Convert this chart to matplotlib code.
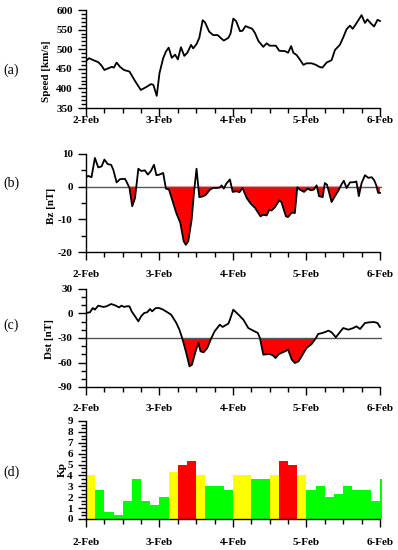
import matplotlib
matplotlib.use("Agg")
import matplotlib.pyplot as plt
from matplotlib.ticker import MultipleLocator
import numpy as np

# hours since 2-Feb 00:00
speed_t = [0.0, 1.0, 2.4, 4.0, 5.1, 6.0, 7.2, 8.4, 9.1, 10.0,
           11.1, 12.4, 14.2, 16.0, 17.9, 19.8, 21.2, 22.0, 23.1, 24.0,
           25.2, 26.1, 27.0, 28.0, 29.1, 30.0, 31.0, 32.1, 33.1, 34.3,
           35.0, 36.1, 37.0, 38.1, 38.9, 40.2, 41.5, 43.0, 44.1, 45.0,
           46.5, 47.2, 48.1, 49.0, 50.3, 51.1, 52.1, 53.3, 54.3, 55.2,
           56.3, 57.9, 59.0, 60.0, 62.0, 63.1, 65.0, 66.0, 67.0, 67.7,
           68.8, 69.8, 71.0, 72.0, 73.7, 75.1, 76.2, 77.2, 78.6, 80.2,
           81.3, 82.9, 84.0, 85.1, 86.2, 87.1, 88.3, 90.0, 91.1, 91.9,
           93.0, 94.1, 95.2, 96.0]
speed = [470, 477, 472, 467, 458, 447, 451, 455, 453, 466,
         455, 447, 443, 419, 396, 404, 411, 409, 381, 439,
         477, 494, 504, 478, 486, 474, 505, 483, 491, 511,
         502, 513, 529, 574, 568, 545, 536, 536, 528, 522,
         529, 540, 578, 572, 546, 547, 559, 555, 552, 541,
         521, 506, 515, 509, 509, 496, 495, 491, 508, 491,
         485, 474, 460, 464, 464, 460, 455, 453, 466, 472,
         498, 511, 530, 551, 560, 552, 566, 587, 567, 576,
         566, 558, 575, 572]

bz_t = [0.0, 0.7, 1.8, 2.9, 4.0, 5.1, 6.0, 7.1, 8.2, 8.9,
        10.0, 11.1, 12.7, 13.2, 14.2, 15.1, 16.0, 17.1, 18.0, 19.2,
        20.2, 21.2, 22.2, 23.0, 24.0, 25.2, 26.1, 27.1, 28.3, 29.5,
        30.8, 31.9, 32.6, 33.4, 34.5, 35.3, 36.1, 37.0, 38.1, 39.1,
        40.5, 41.5, 43.0, 43.8, 44.3, 45.0, 45.8, 47.0, 47.9, 49.2,
        50.1, 51.1, 52.5, 53.8, 55.2, 57.0, 57.8, 59.0, 59.9, 60.6,
        61.7, 63.1, 63.8, 65.3, 66.0, 67.2, 68.2, 69.0, 69.8, 71.2,
        72.4, 73.4, 74.4, 75.3, 76.1, 77.3, 78.0, 78.7, 80.2, 81.3,
        82.3, 83.5, 84.2, 85.1, 86.2, 87.8, 88.3, 89.1, 90.0, 91.1,
        92.2, 93.3, 94.1, 94.8, 95.4, 96.0]
bz = [2.9, 3.3, 2.9, 8.8, 5.9, 6.2, 8.3, 6.9, 6.7, 5.2,
      1.3, 2.3, 2.4, 1.6, -0.4, -6.0, -3.5, 5.5, 4.8, 5.0,
      3.7, 4.8, 6.7, 3.5, 3.7, 4.2, -0.6, -0.9, -4.5, -8.1,
      -11.1, -16.7, -17.8, -16.7, -10.1, -1.4, 5.5, -3.2, -3.0, -2.5,
      -0.9, -0.4, -0.4, -0.2, 0.4, -0.6, 0.9, 2.2, -1.6, -1.4,
      -1.7, -0.4, -3.5, -5.2, -6.5, -9.1, -8.6, -8.8, -7.0, -7.3,
      -6.3, -4.2, -4.7, -9.1, -9.3, -7.9, -8.1, -0.2, -0.9, -1.6,
      -0.6, -1.1, -0.9, 0.4, -2.9, -3.2, 1.1, 0.6, -4.7, -2.9,
      -1.4, 0.8, 1.8, -0.4, 1.3, 1.4, 1.6, -2.9, 1.1, 3.5,
      2.7, 2.9, 2.0, 0.4, -1.9, -1.9]

dst_t = [0.0, 1.3, 2.2, 2.9, 4.0, 5.7, 6.7, 8.2, 9.5, 10.8,
         11.6, 12.5, 13.2, 14.2, 14.9, 16.0, 17.1, 18.0, 19.0, 20.0,
         20.9, 21.6, 22.8, 23.9, 25.2, 26.4, 27.8, 29.5, 30.5, 31.4,
         32.6, 33.8, 34.6, 35.8, 36.7, 37.4, 38.4, 39.6, 40.8, 42.0,
         43.7, 44.6, 46.5, 47.0, 48.1, 49.8, 51.4, 53.0, 54.6, 56.1,
         56.8, 57.9, 59.9, 61.0, 61.9, 63.0, 65.0, 66.0, 67.2, 68.2,
         69.4, 70.4, 72.0, 73.7, 75.1, 75.8, 77.3, 79.2, 80.2, 81.6,
         82.7, 84.0, 85.7, 87.3, 88.3, 89.5, 91.1, 92.6, 94.0, 95.2,
         96.0]
dst = [0.6, 1.5, 6.7, 4.7, 9.6, 8.0, 8.8, 11.6, 10.0, 7.5,
       9.6, 8.0, 8.8, 8.8, 2.7, -3.4, -9.6, -3.4, 0.6, 1.5,
       5.5, 2.7, 6.7, 6.7, 4.7, 1.9, -1.4, -11.6, -19.8, -30,
       -46.3, -64.7, -62.7, -46.3, -36.1, -46.3, -47.5, -42.2, -31.2, -21.8,
       -13.7, -16.5, -12.4, -7.6, 4.7, -1.4, -7.6, -17.8, -21, -23.8,
       -30, -50.4, -49.6, -51.2, -54.5, -49.6, -46.3, -44.3, -56.5, -60.6,
       -58.6, -52.5, -42.2, -37.3, -30, -25.1, -23.8, -21, -23, -29.2,
       -23.8, -17.8, -19.8, -17.8, -15.7, -19, -11.6, -10.8, -10.4, -11.6,
       -16.5]

# 3-hour Kp, starting 2-Feb 00:00
kp = [4.0, 2.67, 0.67, 0.33, 1.67, 3.67, 1.67, 1.33, 2.0, 4.33,
      5.0, 5.33, 4.0, 3.0, 3.0, 2.67, 4.0, 4.0, 3.67, 3.67,
      4.0, 5.33, 5.0, 4.0, 2.67, 3.0, 2.0, 2.33, 3.0, 2.67,
      2.67, 1.67, 3.67]

day_labels = ['2-Feb', '3-Feb', '4-Feb', '5-Feb', '6-Feb']

plt.rcParams['font.family'] = 'Liberation Serif'
plt.rcParams['font.weight'] = 'bold'
plt.rcParams['axes.linewidth'] = 1.0
plt.rcParams['axes.unicode_minus'] = False

fig = plt.figure(figsize=(3.98, 5.5), dpi=100)

left = 86 / 398
width = 295.8 / 398
h = 98 / 550
bottoms = [(550 - 108) / 550, (550 - 252) / 550, (550 - 387) / 550, (550 - 519) / 550]


def setup(ax, ylim, major, minor, pad):
    ax.set_xlim(0, 96.6)
    ax.set_ylim(*ylim)
    for s in ['top', 'right']:
        ax.spines[s].set_visible(False)
    ax.spines['bottom'].set_bounds(0, 96)
    ax.set_xticks([0, 24, 48, 72, 96])
    ax.set_xticklabels(day_labels)
    ax.xaxis.set_minor_locator(MultipleLocator(6))
    ax.yaxis.set_major_locator(MultipleLocator(major))
    ax.yaxis.set_minor_locator(MultipleLocator(minor))
    ax.tick_params(which='major', direction='out', length=6, width=1, labelsize=8)
    ax.tick_params(which='minor', direction='out', length=3.5, width=1)
    ax.tick_params(axis='x', which='major', pad=pad)


# (a) speed
ax1 = fig.add_axes([left, bottoms[0], width, h])
ax1.plot(speed_t, speed, color='black', lw=1.3)
setup(ax1, (350, 600), 50, 10, 0)
ax1.set_ylabel('Speed [km/s]', fontsize=8, fontweight='bold')
ax1.yaxis.set_label_coords(-0.117, 0.38)

# (b) Bz
ax2 = fig.add_axes([left, bottoms[1], width, h])
bz_arr = np.array(bz)
ax2.fill_between(bz_t, bz_arr, 0, where=bz_arr < 0, interpolate=True, color='red', lw=0)
ax2.axhline(0, color='#555555', lw=1)
ax2.plot(bz_t, bz, color='black', lw=1.3)
setup(ax2, (-20, 10), 10, 5, 7)
ax2.set_ylabel('Bz [nT]', fontsize=8, fontweight='bold')
ax2.yaxis.set_label_coords(-0.10, 0.47)

# (c) Dst
ax3 = fig.add_axes([left, bottoms[2], width, h])
dst_arr = np.array(dst)
ax3.fill_between(dst_t, dst_arr, -30, where=dst_arr < -30, interpolate=True, color='red', lw=0)
ax3.axhline(-30, color='#555555', lw=1)
ax3.plot(dst_t, dst, color='black', lw=1.3)
setup(ax3, (-90, 30), 30, 10, 6)
ax3.set_ylabel('Dst [nT]', fontsize=8, fontweight='bold')
ax3.yaxis.set_label_coords(-0.107, 0.485)

# (d) Kp
ax4 = fig.add_axes([left, bottoms[3], width, h])
kp_t = np.arange(len(kp)) * 3
colors = ['red' if v >= 5 else ('yellow' if v >= 4 else '#00ff00') for v in kp]
ax4.bar(kp_t, kp, width=3, align='edge', color=colors, lw=0)
setup(ax4, (0, 9), 1, 1 / 3, 8)
ax4.set_ylabel('Kp', fontsize=8, fontweight='bold')
ax4.yaxis.set_label_coords(-0.066, 0.51)

for lab, y in zip(['(a)', '(b)', '(c)', '(d)'], [70, 183, 325, 472]):
    fig.text(3 / 398, 1 - y / 550, lab, fontsize=10, fontweight='normal', va='center', ha='left')

fig.savefig('out.png', dpi=100)
